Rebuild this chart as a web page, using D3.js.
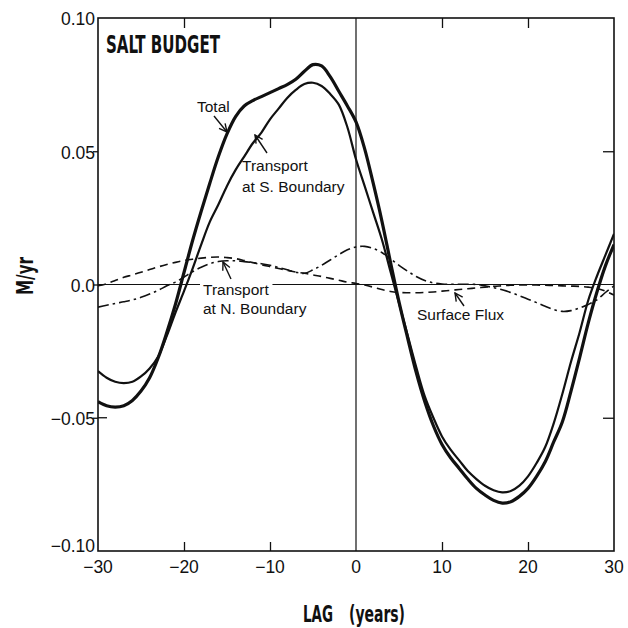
<!DOCTYPE html>
<html><head><meta charset="utf-8">
<script src="https://cdn.jsdelivr.net/npm/d3@7"></script>
<style>body{margin:0;background:#fff}</style>
</head><body>
<svg id="c" width="628" height="628"></svg>
<script>
const lags = [-30,-29,-28,-27,-26,-25,-24,-23,-22,-21,-20,-19,-18,-17,-16,-15,-14,-13,-12,-11,-10,-9,-8,-7,-6,-5,-4,-3,-2,-1,0,1,2,3,4,5,6,7,8,9,10,11,12,13,14,15,16,17,18,19,20,21,22,23,24,25,26,27,28,29,30];
const total = [-0.044,-0.0455,-0.046,-0.0455,-0.0435,-0.040,-0.035,-0.0275,-0.018,-0.0075,0.0045,0.0165,0.0275,0.038,0.048,0.0565,0.063,0.067,0.069,0.0705,0.072,0.0735,0.075,0.077,0.080,0.0825,0.082,0.078,0.0725,0.067,0.061,0.051,0.038,0.024,0.0085,-0.0065,-0.020,-0.033,-0.044,-0.053,-0.060,-0.065,-0.069,-0.073,-0.0765,-0.079,-0.081,-0.082,-0.0815,-0.0795,-0.0765,-0.072,-0.0665,-0.059,-0.0515,-0.040,-0.0275,-0.0145,-0.003,0.007,0.015];
const transportS = [-0.0325,-0.035,-0.0365,-0.037,-0.0365,-0.0345,-0.0315,-0.027,-0.0193,-0.0106,-0.0025,0.006,0.015,0.0235,0.030,0.037,0.043,0.048,0.053,0.057,0.062,0.066,0.070,0.073,0.0752,0.0757,0.0745,0.0715,0.0675,0.059,0.047,0.037,0.027,0.017,0.005,-0.007,-0.019,-0.031,-0.042,-0.050,-0.057,-0.062,-0.066,-0.070,-0.073,-0.0755,-0.0772,-0.078,-0.0775,-0.0755,-0.072,-0.067,-0.061,-0.052,-0.041,-0.029,-0.018,-0.006,0.003,0.011,0.019];
const transportN = [-0.0085,-0.0078,-0.0071,-0.0065,-0.0058,-0.0048,-0.0036,-0.0022,-0.0005,0.0009,0.0028,0.0048,0.0065,0.0078,0.0086,0.0089,0.0089,0.0086,0.0082,0.0078,0.0072,0.0064,0.0055,0.0046,0.0042,0.0055,0.0072,0.0092,0.0112,0.0130,0.0141,0.0143,0.0135,0.0120,0.0097,0.0072,0.0050,0.0030,0.0015,0.0006,0.0002,0.0001,0.0001,0.0001,0.0,-0.0005,-0.0012,-0.002,-0.003,-0.0042,-0.0055,-0.0068,-0.0082,-0.0094,-0.0101,-0.0098,-0.0088,-0.0075,-0.0058,-0.003,-0.0005];
const surfaceFlux = [-0.0005,0.0003,0.0015,0.0027,0.0036,0.0046,0.0056,0.0066,0.0075,0.0083,0.009,0.0095,0.0099,0.0102,0.0103,0.0101,0.0097,0.0090,0.0082,0.0074,0.0067,0.006,0.0053,0.0047,0.0042,0.0036,0.003,0.0023,0.0016,0.0009,0.0004,-0.0002,-0.001,-0.0019,-0.0026,-0.003,-0.0031,-0.0031,-0.003,-0.0028,-0.0025,-0.0022,-0.0019,-0.0016,-0.0013,-0.001,-0.0007,-0.0005,-0.0003,-0.0002,-0.0002,-0.0002,-0.0003,-0.0004,-0.0005,-0.0006,-0.0007,-0.001,-0.0015,-0.0025,-0.004];
const xTicks = [-30,-20,-10,0,10,20,30];
const xTickLabels = ["−30","−20","−10","0","10","20","30"];
const yTicks = [-0.10,-0.05,0.0,0.05,0.10];
const yTickLabels = ["−0.10","−0.05","0.0","0.05","0.10"];

const svg = d3.select("#c");
const L = 98, R = 614, T = 18, B = 551;
const x = d3.scaleLinear().domain([-30,30]).range([L,R]);
const y = d3.scaleLinear().domain([-0.10,0.10]).range([B,T]);
const ink = "#111";

svg.append("rect").attr("width",628).attr("height",628).attr("fill","#fff");
svg.append("defs").append("clipPath").attr("id","clip")
  .append("rect").attr("x",L).attr("y",T).attr("width",R-L).attr("height",B-T);
const mk = svg.select("defs").append("marker").attr("id","ah")
  .attr("viewBox","0 0 10 10").attr("refX",9).attr("refY",5)
  .attr("markerWidth",7).attr("markerHeight",7).attr("orient","auto");
mk.append("path").attr("d","M1,1 L9,5 L1,9").attr("fill","none").attr("stroke",ink).attr("stroke-width",1.4);

// zero lines
svg.append("line").attr("x1",x(0)).attr("x2",x(0)).attr("y1",T).attr("y2",B).attr("stroke",ink).attr("stroke-width",1.2);
svg.append("line").attr("x1",L).attr("x2",R).attr("y1",y(0)).attr("y2",y(0)).attr("stroke",ink).attr("stroke-width",1.1);

// axes with d3 axis generators (inward ticks)
const xb = svg.append("g").attr("transform",`translate(0,${B})`)
  .call(d3.axisBottom(x).tickValues([-20,-10,10,20]).tickSize(-9).tickFormat(""));
const xt = svg.append("g").attr("transform",`translate(0,${T})`)
  .call(d3.axisTop(x).tickValues([-20,-10,10,20]).tickSize(-10).tickFormat(""));
const yr = svg.append("g").attr("transform",`translate(${R},0)`)
  .call(d3.axisRight(y).tickValues([-0.05,0.05]).tickSize(-11).tickFormat(""));
const yl = svg.append("g").attr("transform",`translate(${L},0)`)
  .call(d3.axisLeft(y).tickValues([-0.05,0.0,0.05]).tickSize(5).tickFormat(""));
[xb,xt,yr,yl].forEach(g=>{g.select(".domain").remove();g.selectAll("line").attr("stroke",ink).attr("stroke-width",1.3);});
svg.append("line").attr("x1",L).attr("x2",L+9).attr("y1",y(-0.05)).attr("y2",y(-0.05)).attr("stroke",ink).attr("stroke-width",1.3);

// frame
svg.append("rect").attr("x",L).attr("y",T).attr("width",R-L).attr("height",B-T)
  .attr("fill","none").attr("stroke",ink).attr("stroke-width",1.6);

// tick labels
const fnt = "'Liberation Sans', Arial, Helvetica, sans-serif";
svg.append("g").selectAll("text").data(xTicks).join("text")
  .attr("x",d=>x(d)).attr("y",573).attr("text-anchor","middle")
  .attr("font-family",fnt).attr("font-size",17.5).attr("fill",ink)
  .text((d,i)=>xTickLabels[i]);
svg.append("g").selectAll("text").data(yTicks).join("text")
  .attr("x",95).attr("y",d=>y(d) + (d === -0.10 ? -5 : 1)).attr("dy","0.36em").attr("text-anchor","end")
  .attr("font-family",fnt).attr("font-size",17.5).attr("fill",ink)
  .text((d,i)=>yTickLabels[i]);

// axis titles (condensed bold)
const cf = "'Liberation Sans Narrow', 'DejaVu Sans Condensed', 'Arial Narrow', sans-serif";
svg.append("text").attr("x",106).attr("y",53).attr("font-family",cf).attr("font-weight","bold")
  .attr("font-size",25).attr("textLength",114).attr("lengthAdjust","spacingAndGlyphs").attr("fill",ink).text("SALT BUDGET");
svg.append("text").attr("transform","translate(33,295) rotate(-90)").attr("font-family",cf).attr("font-weight","bold")
  .attr("font-size",23).attr("textLength",38).attr("lengthAdjust","spacingAndGlyphs").attr("fill",ink).text("M/yr");
svg.append("text").attr("x",303).attr("y",622).attr("font-family",cf).attr("font-weight","bold")
  .attr("font-size",23).attr("textLength",30).attr("lengthAdjust","spacingAndGlyphs").attr("fill",ink).text("LAG");
svg.append("text").attr("x",349).attr("y",622).attr("font-family",cf).attr("font-weight","bold")
  .attr("font-size",23).attr("textLength",56).attr("lengthAdjust","spacingAndGlyphs").attr("fill",ink).text("(years)");

// curves
const series = [
  {v: surfaceFlux, w: 1.6, dash: "8,5"},
  {v: transportN, w: 1.6, dash: "11,4,2.5,4"},
  {v: transportS, w: 2.2, dash: null},
  {v: total, w: 3.2, dash: null}
];
const line = d3.line().x(d=>x(d[0])).y(d=>y(d[1])).curve(d3.curveCatmullRom.alpha(0.5));
const cg = svg.append("g").attr("clip-path","url(#clip)");
series.forEach(s=>{
  cg.append("path").datum(lags.map((l,i)=>[l,s.v[i]])).attr("d",line)
    .attr("fill","none").attr("stroke",ink).attr("stroke-width",s.w)
    .attr("stroke-dasharray",s.dash).attr("stroke-linejoin","round");
});

// annotations
function label(lines, x0, y0, lh, bg){
  lines.forEach((t,i)=>{
    const el = svg.append("text").attr("x",x0).attr("y",y0+i*lh).attr("font-family",fnt)
      .attr("font-size",15.5).attr("fill",ink).text(t);
    if(bg && i===0){
      const bb = el.node().getBBox();
      svg.insert("rect", () => el.node()).attr("x",bb.x-3).attr("y",bb.y+2).attr("width",bb.width+6).attr("height",bb.height-4).attr("fill","#fff");
    }
  });
}
function pointer(x1,y1,x2,y2){
  svg.append("line").attr("x1",x1).attr("y1",y1).attr("x2",x2).attr("y2",y2)
    .attr("stroke",ink).attr("stroke-width",1.4).attr("marker-end","url(#ah)");
}
label(["Total"],197,112,21,false);
pointer(214,116,227,132);
label(["Transport","at S. Boundary"],242,171,21,false);
pointer(267,153,255,135);
label(["Transport","at N. Boundary"],203,295,19,true);
pointer(231,279,223,262);
label(["Surface Flux"],417,320,19,false);
pointer(464,306,455,293);
</script>
</body></html>
